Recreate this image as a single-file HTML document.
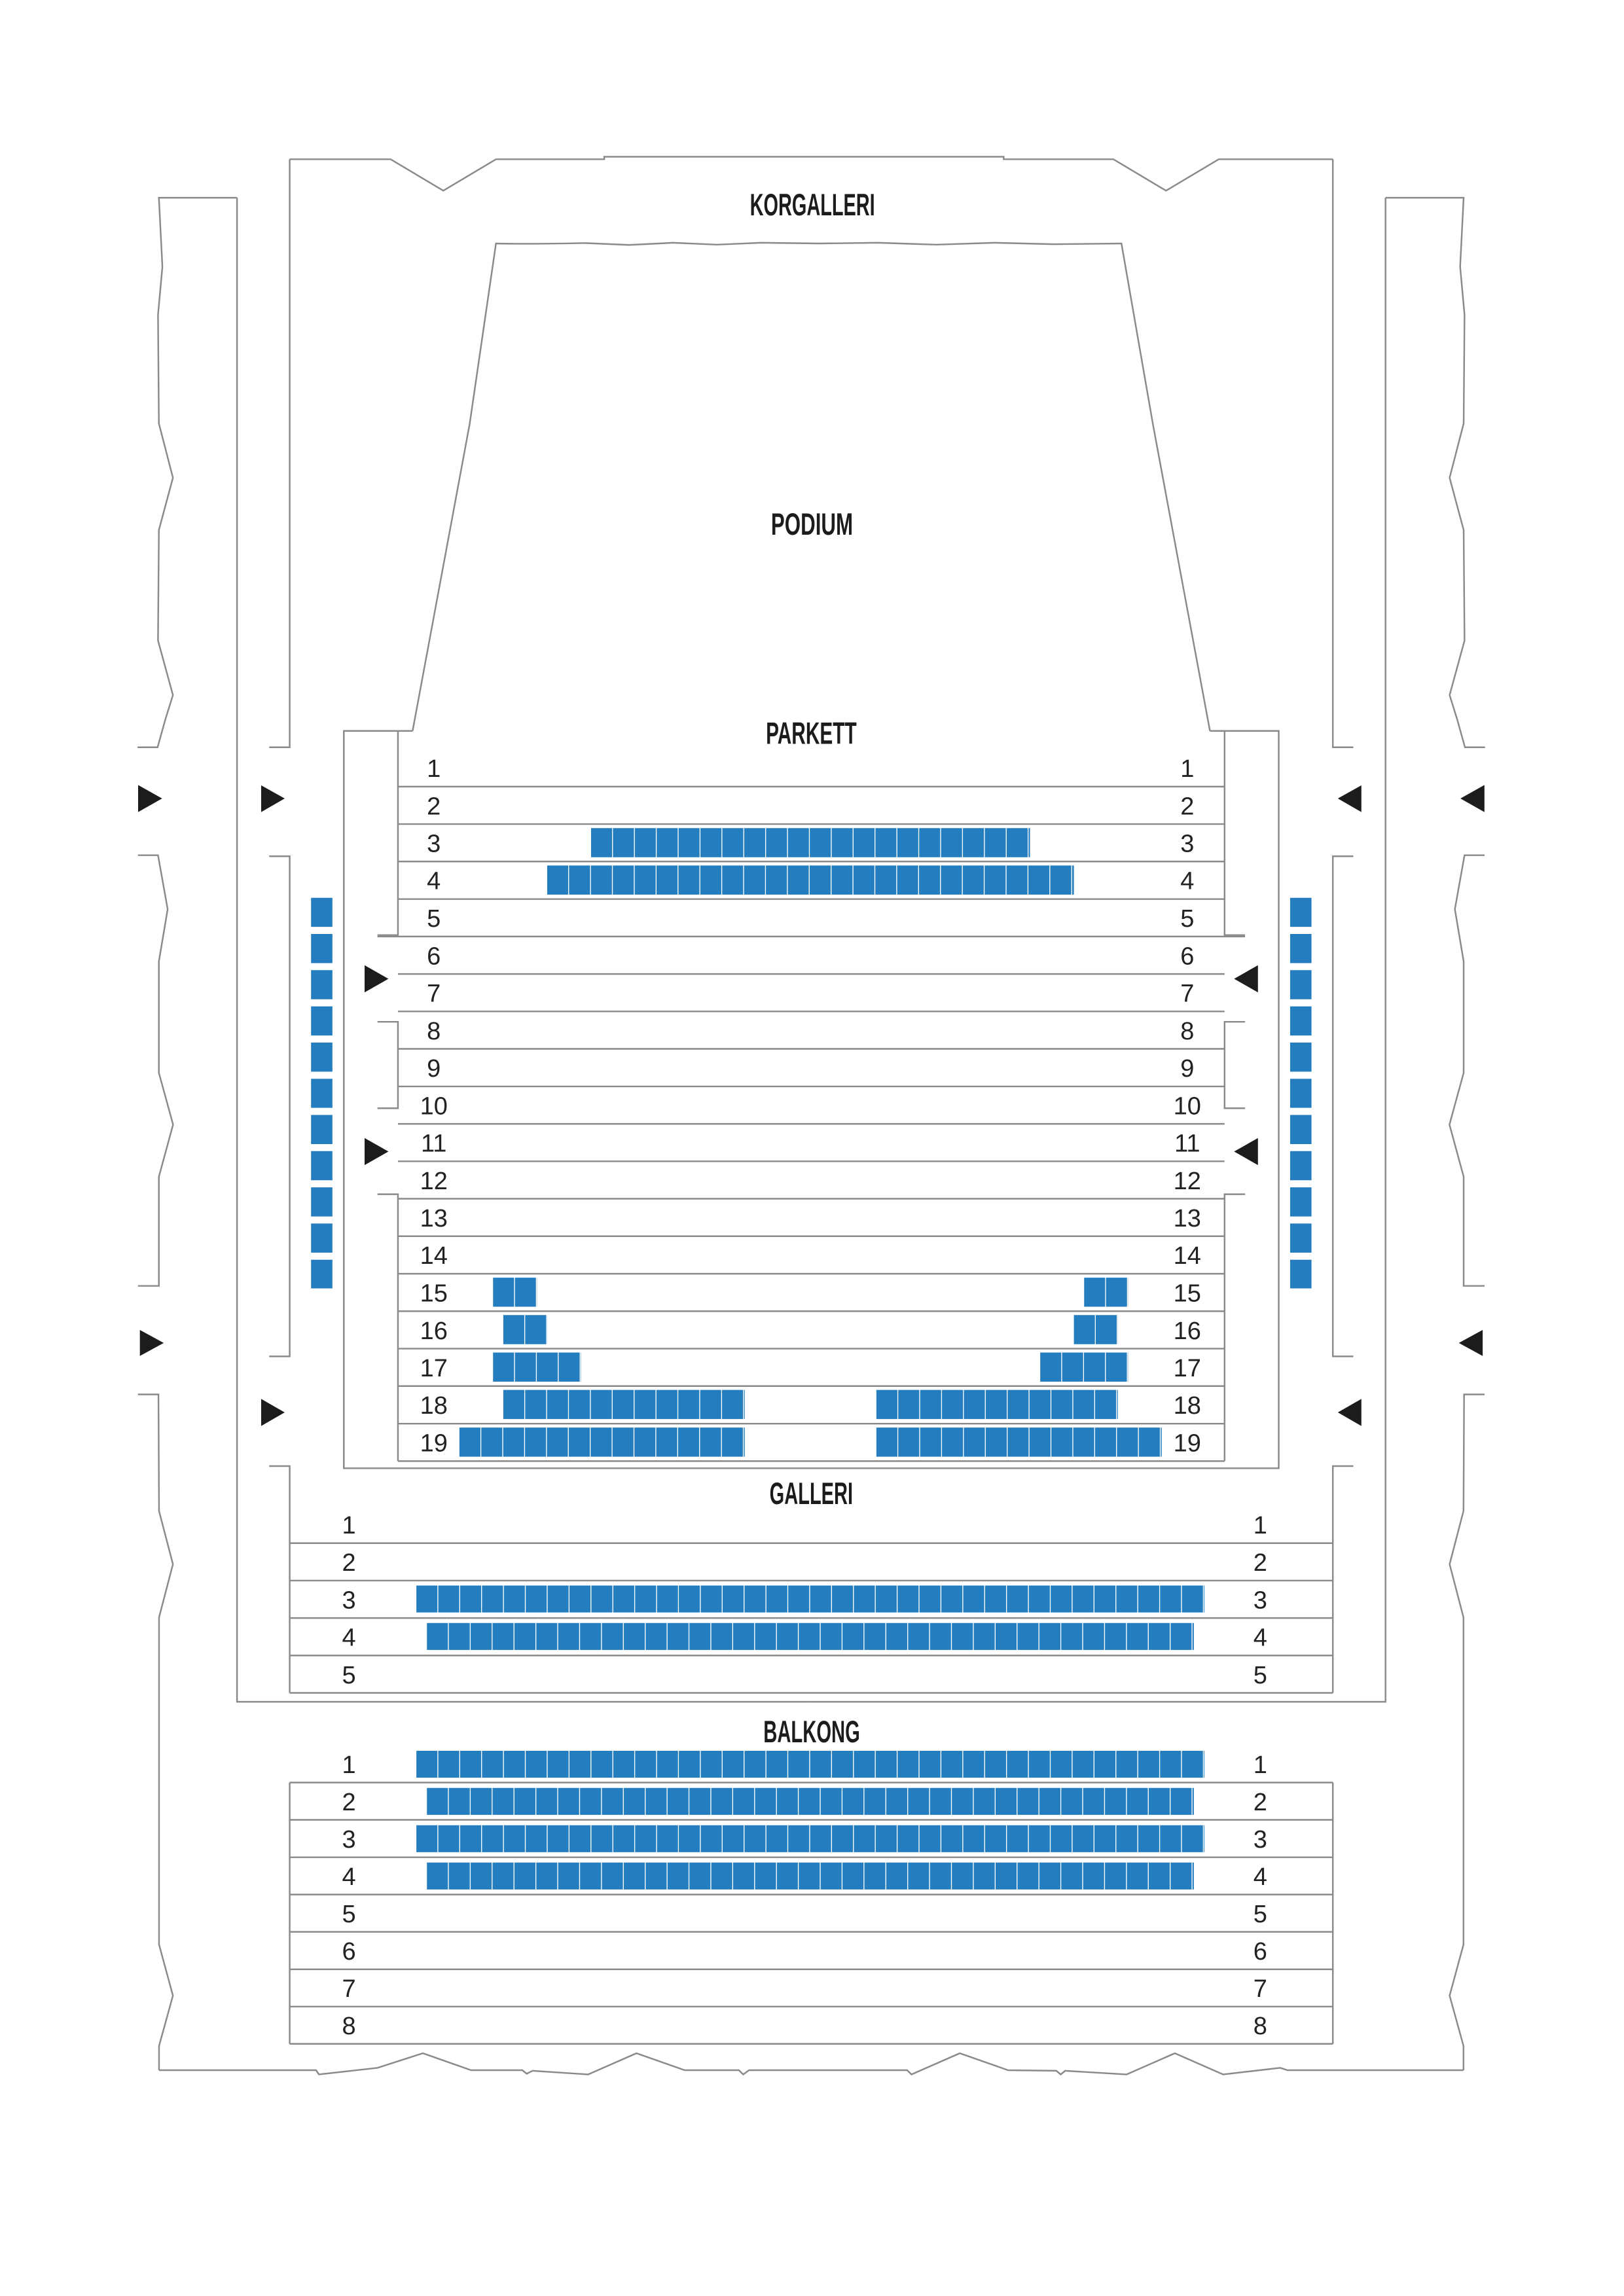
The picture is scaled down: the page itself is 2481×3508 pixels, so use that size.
<!DOCTYPE html>
<html><head><meta charset="utf-8"><style>
html,body{margin:0;padding:0;background:#fff;}
svg{display:block;}
.l{fill:none;stroke:#8a8a8a;stroke-width:1.1;}
.t{font-family:"Liberation Sans",sans-serif;font-weight:bold;font-size:21px;fill:#1c1c1a;text-anchor:middle;}
.n{font-family:"Liberation Sans",sans-serif;font-size:17px;fill:#222;text-anchor:middle;}
.s{stroke:#237dbf;stroke-dasharray:14.35 0.6;}
.a{fill:#1c1c1c;}
</style></head><body>
<svg width="2481" height="3508" viewBox="0 0 1110 1570" preserveAspectRatio="none" xmlns="http://www.w3.org/2000/svg">
<defs>
<g id="side">
 <!-- outer jagged outline -->
 <path class="l" d="M162,135.2 L108.6,135.2 L111,182.4 L108,215.3 L108.6,289.6 L118.2,326.7 L108.6,362.4 L108,438 L118.2,475.3 L113,492 L107.7,511 L94,511"/>
 <path class="l" d="M94.3,584.8 L108,584.8 L114.6,621.7 L108.6,657.4 L108.6,733.6 L118.3,769 L108.6,804.6 L108.6,879.3 L94.3,879.3"/>
 <path class="l" d="M94.3,953.5 L108.3,953.5 L108.7,1033.2 L118.2,1069.6 L108.7,1106 L108.7,1329.7 L118.2,1364.6 L108.7,1399 L108.7,1415.6"/>
 <!-- inner pillar -->
 <path class="l" d="M162,135.2 L162,1163.7 L554.5,1163.7"/>
 <!-- korgalleri frame side -->
 <path class="l" d="M198,108.9 L198,511 L184,511"/>
 <path class="l" d="M184,585.5 L198,585.5 L198,927.5 L184,927.5"/>
 <path class="l" d="M184,1002.5 L198,1002.5 L198,1157.6"/>
 <!-- parkett outer box -->
 <path class="l" d="M282,499.8 L235,499.8 L235,1004 L554.5,1004"/>
 <!-- parkett inner lines -->
 <path class="l" d="M272,499.8 L272,639.4 L258,639.4"/>
 <path class="l" d="M258,698.7 L272,698.7 L272,757.8 L258,757.8"/>
 <path class="l" d="M258,816.6 L272,816.6 L272,999.1"/>
 <!-- balkong vertical -->
 <path class="l" d="M198,1218.9 L198,1397.6"/>
 <!-- arrows -->
 <polygon class="a" points="94.4,536.8 110.8,546 94.4,555.3"/>
 <polygon class="a" points="95.6,909.4 111.9,918.3 95.6,927.2"/>
 <polygon class="a" points="178.5,537 194.6,546 178.5,555.3"/>
 <polygon class="a" points="178.5,956.6 194.6,965.8 178.5,975.1"/>
 <polygon class="a" points="249.2,660 265.5,669.3 249.2,678.6"/>
 <polygon class="a" points="249.2,778.2 265.5,787.4 249.2,796.7"/>
 <!-- side seat column -->
 <line x1="219.9" y1="613.9" x2="219.9" y2="881" stroke="#237dbf" stroke-width="14.6" stroke-dasharray="19.9 4.85"/>
</g>
</defs>
<use href="#side"/>
<use href="#side" transform="translate(1109,0) scale(-1,1)"/>

<!-- korgalleri top line -->
<path class="l" d="M198,108.9 L267,108.9 L303,130.4 L339,108.9 L413,108.9 L413,107.2 L686,107.2 L686,108.9 L761,108.9 L797,130.4 L833,108.9 L911,108.9"/>
<!-- podium -->
<path class="l" d="M282,499.8 L300,403 L321,290 L339,166.5 Q360,167 400,166.2 L430,167.5 L460,166 L490,167.3 L520,166 L560,166.5 L600,166 L640,167.3 L680,166 L720,167 L766.5,166.5 L788,290 L809,403 L827,499.8"/>
<!-- bottom outline -->
<path class="l" d="M108.7,1415.6 L216,1415.6 L218,1418.5 L258,1414 L289,1404 L322,1415.6 L357,1415.6 L360,1418 L364,1416 L402,1418.5 L435,1404 L468,1415.6 L505,1415.6 L508,1418.5 L512,1415.6 L620,1415.6 L623,1418.5 L656,1404 L689,1415.6 L722,1416 L725,1418.5 L728,1416 L770,1418.5 L803,1404 L836,1418.5 L875,1414 L880,1415.6 L1000.3,1415.6"/>

<!-- parkett row lines -->
<g class="l">
<line x1="272" x2="837" y1="537.9" y2="537.9"/>
<line x1="272" x2="837" y1="563.5" y2="563.5"/>
<line x1="272" x2="837" y1="589.1" y2="589.1"/>
<line x1="272" x2="837" y1="614.8" y2="614.8"/>
<line x1="258" x2="851" y1="640.4" y2="640.4"/>
<line x1="272" x2="837" y1="666" y2="666"/>
<line x1="272" x2="837" y1="691.6" y2="691.6"/>
<line x1="272" x2="837" y1="717.2" y2="717.2"/>
<line x1="272" x2="837" y1="742.9" y2="742.9"/>
<line x1="272" x2="837" y1="768.5" y2="768.5"/>
<line x1="272" x2="837" y1="794.1" y2="794.1"/>
<line x1="272" x2="837" y1="819.7" y2="819.7"/>
<line x1="272" x2="837" y1="845.3" y2="845.3"/>
<line x1="272" x2="837" y1="871" y2="871"/>
<line x1="272" x2="837" y1="896.6" y2="896.6"/>
<line x1="272" x2="837" y1="922.2" y2="922.2"/>
<line x1="272" x2="837" y1="947.8" y2="947.8"/>
<line x1="272" x2="837" y1="973.5" y2="973.5"/>
<line x1="272" x2="837" y1="999.1" y2="999.1"/>
<!-- galleri -->
<line x1="198" x2="911" y1="1055.2" y2="1055.2"/>
<line x1="198" x2="911" y1="1080.8" y2="1080.8"/>
<line x1="198" x2="911" y1="1106.4" y2="1106.4"/>
<line x1="198" x2="911" y1="1132" y2="1132"/>
<line x1="198" x2="911" y1="1157.6" y2="1157.6"/>
<!-- balkong -->
<line x1="198" x2="911" y1="1218.9" y2="1218.9"/>
<line x1="198" x2="911" y1="1244.4" y2="1244.4"/>
<line x1="198" x2="911" y1="1270" y2="1270"/>
<line x1="198" x2="911" y1="1295.5" y2="1295.5"/>
<line x1="198" x2="911" y1="1321" y2="1321"/>
<line x1="198" x2="911" y1="1346.6" y2="1346.6"/>
<line x1="198" x2="911" y1="1372.1" y2="1372.1"/>
<line x1="198" x2="911" y1="1397.6" y2="1397.6"/>
</g>

<!-- parkett seats -->
<g class="s" stroke-width="19.9">
<line x1="404" x2="704" y1="576.2" y2="576.2"/>
<line x1="374" x2="734" y1="601.8" y2="601.8"/>
<line x1="337" x2="367" y1="883.6" y2="883.6"/>
<line x1="741" x2="771" y1="883.6" y2="883.6"/>
<line x1="344" x2="374" y1="909.2" y2="909.2"/>
<line x1="734" x2="764" y1="909.2" y2="909.2"/>
<line x1="337" x2="397" y1="934.8" y2="934.8"/>
<line x1="711" x2="771" y1="934.8" y2="934.8"/>
<line x1="344" x2="509" y1="960.4" y2="960.4"/>
<line x1="599" x2="764" y1="960.4" y2="960.4"/>
<line x1="314" x2="509" y1="986.1" y2="986.1"/>
<line x1="599" x2="794" y1="986.1" y2="986.1"/>
</g>
<!-- galleri / balkong seats -->
<g class="s" stroke-width="18.4">
<line x1="284.6" x2="823.2" y1="1093.4" y2="1093.4"/>
<line x1="291.8" x2="816" y1="1119" y2="1119"/>
<line x1="284.6" x2="823.2" y1="1206.4" y2="1206.4"/>
<line x1="291.8" x2="816" y1="1231.8" y2="1231.8"/>
<line x1="284.6" x2="823.2" y1="1257.3" y2="1257.3"/>
<line x1="291.8" x2="816" y1="1282.8" y2="1282.8"/>
</g>

<!-- section labels -->
<text class="t" x="555.3" y="147.3" textLength="85.5" lengthAdjust="spacingAndGlyphs">KORGALLERI</text>
<text class="t" x="555" y="365.6" textLength="56" lengthAdjust="spacingAndGlyphs">PODIUM</text>
<text class="t" x="554.5" y="508.6" textLength="62" lengthAdjust="spacingAndGlyphs">PARKETT</text>
<text class="t" x="554.5" y="1028.4" textLength="57" lengthAdjust="spacingAndGlyphs">GALLERI</text>
<text class="t" x="554.8" y="1191.3" textLength="66" lengthAdjust="spacingAndGlyphs">BALKONG</text>

<!-- parkett numbers -->
<g class="n">
<text x="296.5" y="531.3">1</text><text x="811.5" y="531.3">1</text>
<text x="296.5" y="556.9">2</text><text x="811.5" y="556.9">2</text>
<text x="296.5" y="582.5">3</text><text x="811.5" y="582.5">3</text>
<text x="296.5" y="608.1">4</text><text x="811.5" y="608.1">4</text>
<text x="296.5" y="633.8">5</text><text x="811.5" y="633.8">5</text>
<text x="296.5" y="659.4">6</text><text x="811.5" y="659.4">6</text>
<text x="296.5" y="685">7</text><text x="811.5" y="685">7</text>
<text x="296.5" y="710.6">8</text><text x="811.5" y="710.6">8</text>
<text x="296.5" y="736.2">9</text><text x="811.5" y="736.2">9</text>
<text x="296.5" y="761.9">10</text><text x="811.5" y="761.9">10</text>
<text x="296.5" y="787.5">11</text><text x="811.5" y="787.5">11</text>
<text x="296.5" y="813.1">12</text><text x="811.5" y="813.1">12</text>
<text x="296.5" y="838.7">13</text><text x="811.5" y="838.7">13</text>
<text x="296.5" y="864.3">14</text><text x="811.5" y="864.3">14</text>
<text x="296.5" y="890">15</text><text x="811.5" y="890">15</text>
<text x="296.5" y="915.6">16</text><text x="811.5" y="915.6">16</text>
<text x="296.5" y="941.2">17</text><text x="811.5" y="941.2">17</text>
<text x="296.5" y="966.8">18</text><text x="811.5" y="966.8">18</text>
<text x="296.5" y="992.4">19</text><text x="811.5" y="992.4">19</text>
<!-- galleri -->
<text x="238.5" y="1048.6">1</text><text x="861.4" y="1048.6">1</text>
<text x="238.5" y="1074.2">2</text><text x="861.4" y="1074.2">2</text>
<text x="238.5" y="1099.8">3</text><text x="861.4" y="1099.8">3</text>
<text x="238.5" y="1125.4">4</text><text x="861.4" y="1125.4">4</text>
<text x="238.5" y="1151">5</text><text x="861.4" y="1151">5</text>
<!-- balkong -->
<text x="238.5" y="1212.3">1</text><text x="861.4" y="1212.3">1</text>
<text x="238.5" y="1237.9">2</text><text x="861.4" y="1237.9">2</text>
<text x="238.5" y="1263.4">3</text><text x="861.4" y="1263.4">3</text>
<text x="238.5" y="1288.9">4</text><text x="861.4" y="1288.9">4</text>
<text x="238.5" y="1314.4">5</text><text x="861.4" y="1314.4">5</text>
<text x="238.5" y="1340">6</text><text x="861.4" y="1340">6</text>
<text x="238.5" y="1365.5">7</text><text x="861.4" y="1365.5">7</text>
<text x="238.5" y="1391">8</text><text x="861.4" y="1391">8</text>
</g>
</svg>
</body></html>
